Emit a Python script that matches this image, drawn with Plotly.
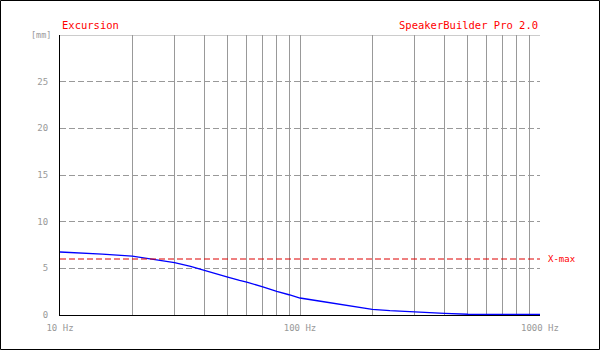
import plotly.graph_objects as go

freq = [10, 12, 15, 20, 25, 30, 35, 40, 45, 50, 56, 60, 70, 80, 90, 100, 120, 150, 200, 237, 300, 400, 500, 700, 1000]
excursion = [6.75, 6.68, 6.52, 6.3, 5.95, 5.6, 5.2, 4.8, 4.4, 4.05, 3.7, 3.52, 3.02, 2.52, 2.17, 1.82, 1.5, 1.1, 0.6, 0.46, 0.3, 0.18, 0.08, 0.07, 0.06]
xmax = 6.0
grid_freqs = [10, 20, 30, 40, 50, 60, 70, 80, 90, 100, 200, 300, 400, 500, 600, 700, 800, 900, 1000]
x_labels = {10: "10 Hz", 100: "100 Hz", 1000: "1000 Hz"}
y_ticks = [0, 5, 10, 15, 20, 25]

GRAY = "#999999"
RED = "#ff0000"
FONT = "DejaVu Sans Mono"

fig = go.Figure()
fig.add_trace(go.Scatter(x=freq, y=excursion, mode="lines", line=dict(color="#0000ff", width=1.3), hoverinfo="skip"))

fig.add_shape(type="line", xref="x", yref="y", x0=freq[0], x1=freq[-1], y0=xmax, y1=xmax,
              line=dict(color="#dd0000", width=1, dash="6px,3px"))
fig.add_shape(type="line", xref="x", yref="y", x0=freq[0], x1=freq[-1], y0=30, y1=30,
              line=dict(color=GRAY, width=1))
fig.add_shape(type="rect", xref="paper", yref="paper", x0=-60/480 + 0.5/480, x1=1 + 59.5/480,
              y0=-35/280 + 0.5/280, y1=1 + 34.5/280, line=dict(color="black", width=1), layer="above")

fig.add_annotation(x=0, y=1, xref="paper", yref="paper", xanchor="left", yanchor="bottom",
                   text="Excursion", showarrow=False, font=dict(family=FONT, size=10.5, color=RED), yshift=2)
fig.add_annotation(x=1, y=1, xref="paper", yref="paper", xanchor="right", yanchor="bottom",
                   text="SpeakerBuilder Pro 2.0", showarrow=False, font=dict(family=FONT, size=10.5, color=RED), yshift=2)
fig.add_annotation(x=1, y=xmax, xref="paper", yref="y", xanchor="left", yanchor="middle",
                   text="X-max", showarrow=False, font=dict(family=FONT, size=9, color=RED), xshift=6)
fig.add_annotation(x=0, y=1, xref="paper", yref="paper", xanchor="right", yanchor="middle",
                   text="[mm]", showarrow=False, font=dict(family=FONT, size=8.5, color=GRAY), xshift=-7)

fig.update_layout(
    width=600, height=350, margin=dict(l=60, r=60, t=35, b=35),
    paper_bgcolor="white", plot_bgcolor="white", showlegend=False,
    xaxis=dict(type="log", range=[1, 3], tickvals=grid_freqs,
               ticktext=[x_labels.get(f, "") for f in grid_freqs],
               showgrid=True, gridcolor=GRAY, gridwidth=1, zeroline=False,
               showline=True, linecolor="black", linewidth=1, ticks="",
               tickfont=dict(family=FONT, size=9, color=GRAY), ticklabelstandoff=4),
    yaxis=dict(range=[0, 30], tickvals=y_ticks, showgrid=True, gridcolor=GRAY, griddash="6px,3px",
               gridwidth=1, zeroline=False, showline=True, linecolor="black", linewidth=1, ticks="",
               tickfont=dict(family=FONT, size=9, color=GRAY), ticklabelstandoff=9),
)

fig.write_html("out.html")
